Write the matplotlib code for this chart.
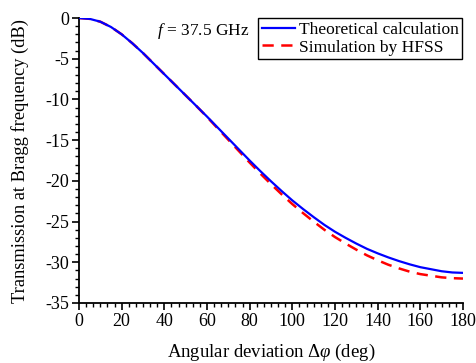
import matplotlib
matplotlib.use("Agg")
import matplotlib.pyplot as plt
from matplotlib.ticker import MultipleLocator, AutoMinorLocator
from matplotlib import font_manager

names = {f.name for f in font_manager.fontManager.ttflist}
serif = [n for n in ['Liberation Serif', 'Times New Roman', 'Nimbus Roman', 'DejaVu Serif'] if n in names]
plt.rcParams['font.family'] = 'serif'
plt.rcParams['font.serif'] = serif
plt.rcParams['mathtext.fontset'] = 'custom'
plt.rcParams['mathtext.rm'] = serif[0]
plt.rcParams['mathtext.it'] = serif[0] + ':italic'
plt.rcParams['axes.unicode_minus'] = False

angle = [0, 5, 10, 15, 20, 25, 30, 35, 40, 45, 50, 55, 60, 65, 70, 75, 80, 85, 90,
         95, 100, 105, 110, 115, 120, 125, 130, 135, 140, 145, 150, 155, 160, 165,
         170, 175, 180]
theory = [0, -0.1, -0.45, -1.1, -2.0, -3.1, -4.3, -5.6, -6.9, -8.2, -9.5, -10.8, -12.1,
          -13.45, -14.8, -16.15, -17.5, -18.8, -20.05, -21.25, -22.4, -23.45, -24.45,
          -25.4, -26.25, -27.0, -27.7, -28.35, -28.9, -29.4, -29.85, -30.25, -30.6,
          -30.85, -31.1, -31.25, -31.3]
hfss = [0, -0.1, -0.45, -1.1, -2.0, -3.1, -4.3, -5.6, -6.9, -8.2, -9.5, -10.8, -12.15,
        -13.55, -14.95, -16.35, -17.75, -19.1, -20.4, -21.65, -22.85, -23.95, -25.0,
        -26.0, -26.9, -27.7, -28.45, -29.15, -29.75, -30.3, -30.75, -31.15, -31.45,
        -31.65, -31.85, -31.95, -32.0]

fig = plt.figure(figsize=(4.77, 3.63), dpi=100)
ax = fig.add_axes([0.1656, 0.1653, 0.805, 0.785])

ax.plot(angle, theory, color='#0000ff', lw=1.6, label='Theoretical calculation', zorder=3)
ax.plot(angle, hfss, color='#ff0000', lw=1.8, ls=(0, (4.5, 3)), label='Simulation by HFSS', zorder=2)

ax.set_xlim(0, 180)
ax.set_ylim(-35, 0)
ax.xaxis.set_major_locator(MultipleLocator(20))
ax.xaxis.set_minor_locator(AutoMinorLocator(6))
ax.yaxis.set_major_locator(MultipleLocator(5))
ax.yaxis.set_minor_locator(AutoMinorLocator(5))

for s in ['top', 'right']:
    ax.spines[s].set_visible(False)
for s in ['left', 'bottom']:
    ax.spines[s].set_linewidth(1.3)

fs = 12.5
ax.tick_params(which='major', direction='out', length=5, width=1.2, labelsize=13, pad=2)
ax.tick_params(which='minor', direction='out', length=3, width=1.0)
for lab in ax.get_xticklabels() + ax.get_yticklabels():
    lab.set_fontfamily(serif[0])

ax.set_xlabel(r'Angular deviation $\Delta\mathit{\varphi}$ (deg)', fontsize=13.5, labelpad=9)
ax.set_ylabel('Transmission at Bragg frequency (dB)', fontsize=13.3, labelpad=12)

ax.text(0.203, 0.955, r'$f$ = 37.5 GHz', transform=ax.transAxes, fontsize=fs,
        ha='left', va='center')

leg = ax.legend(loc='upper right', bbox_to_anchor=(0.998, 1.0), fontsize=fs,
                frameon=True, fancybox=False, edgecolor='black', framealpha=1,
                borderpad=0.2, labelspacing=0.1, handlelength=1.9, handletextpad=0.25,
                borderaxespad=0)
leg.get_frame().set_linewidth(1.0)

fig.savefig('out.png', dpi=100)
